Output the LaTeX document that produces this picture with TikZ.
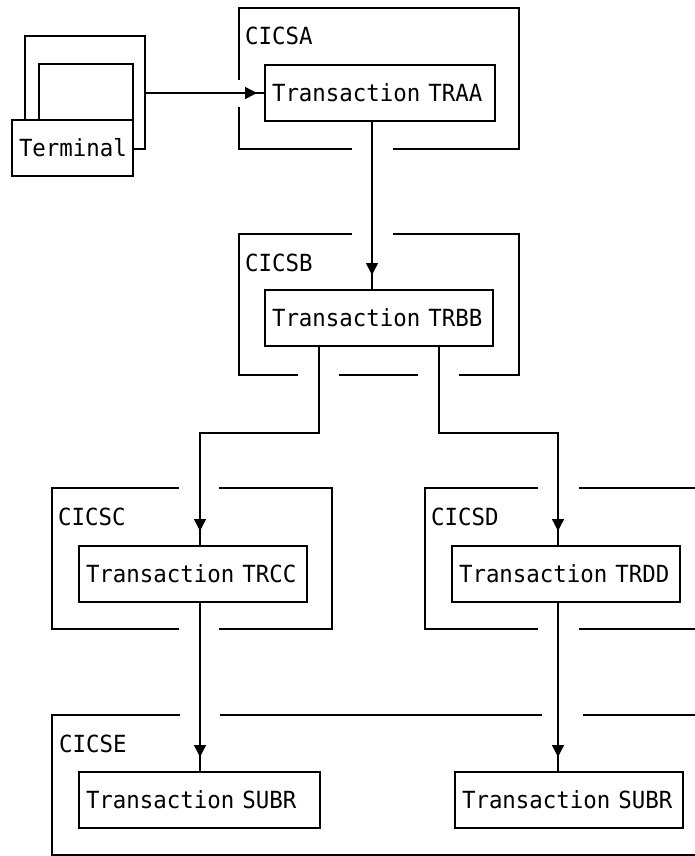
\documentclass[tikz,border=0pt]{standalone}
\usepackage{fontspec}
\newfontfamily\screenfont[FakeStretch=0.95]{DejaVu Sans Mono}
\usetikzlibrary{arrows.meta,decorations.markings}

\tikzset{
  frame/.style={line width=1.4pt},
  txbox/.style={draw,line width=1.4pt,anchor=north west,inner xsep=7pt,inner ysep=0pt,
    outer sep=0pt,minimum height=56pt,text width=#1,align=left},
  region/.style={anchor=base west,inner sep=0pt},
  flow/.style={line width=1.4pt,postaction={decorate},
    decoration={markings,mark=at position -#1 with {\arrow{Triangle[length=12pt,width=12pt]}}}}
}

\begin{document}
\begin{tikzpicture}[x=1pt,y=-1pt,font=\screenfont\fontsize{23.6}{27}\selectfont]
\useasboundingbox (0,0) rectangle (695,856);

% terminal
\node[txbox=107pt] (term) at (12,120) {Terminal};
\draw[frame] (25,120) |- (145,36) |- (133,149);
\draw[frame] (39,120) |- (133,64) -- (133,120);
\coordinate (termout) at (145,93);

% CICSA
\draw[frame] (239,80) |- (519,8) |- (393,149) (352,149) -| (239,107);
\node[region] (nameA) at (245,45) {CICSA};
\node[txbox=216pt] (traa) at (265,65) {Transaction TRAA};

% CICSB
\draw[frame] (352,234) -| (239,375) -- (298,375);
\draw[frame] (339,375) -- (418,375);
\draw[frame] (459,375) -| (519,234) -- (393,234);
\node[region] (nameB) at (245,271) {CICSB};
\node[txbox=214pt] (trbb) at (265,290) {Transaction TRBB};

% CICSC
\draw[frame] (179,488) -| (52,629) -- (179,629);
\draw[frame] (219,488) -| (332,629) -- (219,629);
\node[region] (nameC) at (58,525) {CICSC};
\node[txbox=214pt] (trcc) at (79,546) {Transaction TRCC};

% CICSD
\draw[frame] (538,488) -| (425,629) -- (538,629);
\draw[frame] (579,488) -- (695,488) (579,629) -- (695,629);
\node[region] (nameD) at (431,525) {CICSD};
\node[txbox=214pt] (trdd) at (452,546) {Transaction TRDD};

% CICSE
\draw[frame] (180,715) -| (52,855) -- (695,855);
\draw[frame] (220,715) -- (542,715) (583,715) -- (695,715);
\node[region] (nameE) at (59,752) {CICSE};
\node[txbox=227pt] (subra) at (79,772) {Transaction SUBR};
\node[txbox=214pt] (subrb) at (455,772) {Transaction SUBR};

% flows
\coordinate (colA) at (372,0);
\coordinate (colL) at (319,0);
\coordinate (colR) at (439,0);
\coordinate (elbowL) at (200,433);
\coordinate (elbowR) at (558,433);
\draw[flow=8pt] (termout) -- (traa.west);
\draw[flow=15pt] (traa.south -| colA) -- (trbb.north -| colA);
\draw[flow=15pt] (trbb.south -| colL) |- (elbowL) -- (trcc.north -| elbowL);
\draw[flow=15pt] (trbb.south -| colR) |- (elbowR) -- (trdd.north -| elbowR);
\draw[flow=15pt] (trcc.south -| elbowL) -- (subra.north -| elbowL);
\draw[flow=15pt] (trdd.south -| elbowR) -- (subrb.north -| elbowR);
\end{tikzpicture}
\end{document}
